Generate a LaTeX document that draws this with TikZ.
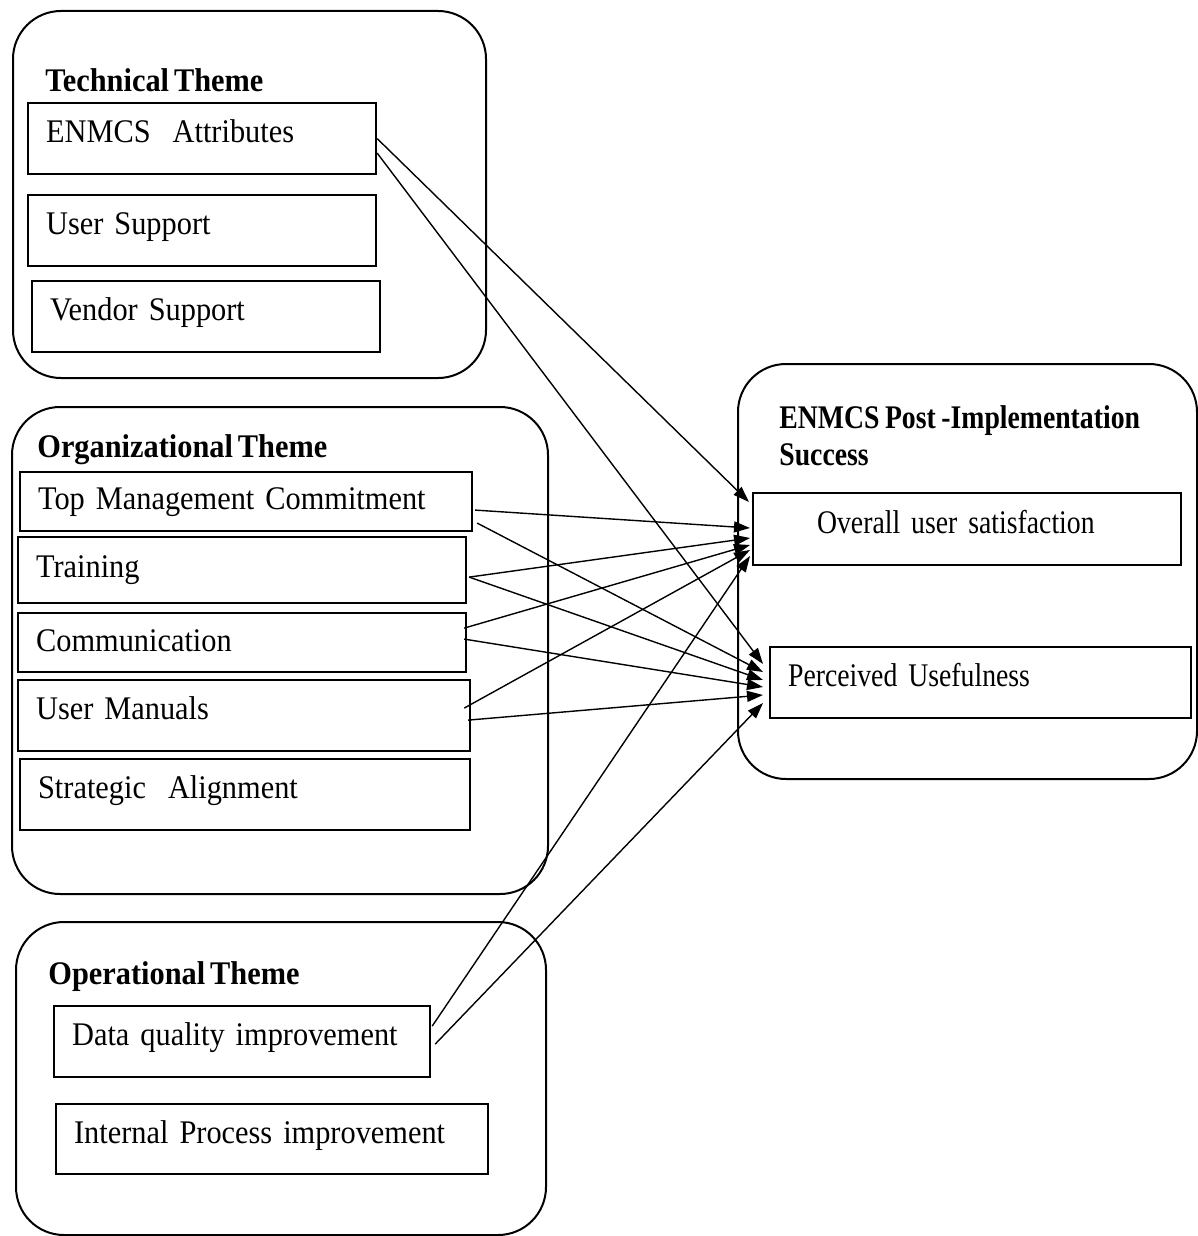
\documentclass[tikz,border=0pt]{standalone}
\usepackage{fontspec}
\setmainfont[FakeStretch=0.92,WordSpace=0.65]{Liberation Serif}
\newfontfamily\narrowfont[FakeStretch=0.84,WordSpace=0.8]{Liberation Serif}
\usetikzlibrary{arrows.meta}
\begin{document}
\begin{tikzpicture}[x=0.5pt,y=-0.5pt,
  outer/.style={draw, line width=1pt, rounded corners=24pt, anchor=north west, inner sep=0pt},
  ibox/.style={draw, line width=1.1pt, anchor=north west, inner xsep=9pt, inner ysep=0pt, align=left, text height=12pt, text depth=8pt},
  head/.style={anchor=base west, inner sep=0pt},
  conn/.style={-{Triangle[length=8pt,width=5.5pt]}, line width=0.7pt},
  every node/.append style={font=\fontsize{16.5}{18}\selectfont}
]
\useasboundingbox (0,0) rectangle (1198,1236);
\fill[white] (0,0) rectangle (1198,1236);

% outer theme boxes
\node[outer, minimum width=236.5pt, minimum height=183.5pt] (tech) at (12,10) {};
\node[outer, minimum width=268pt, minimum height=243.5pt] (org) at (11,406) {};
\node[outer, minimum width=265pt, minimum height=156.5pt] (oper) at (15,921) {};
\node[outer, minimum width=229.5pt, minimum height=207.5pt] (succ) at (737,363) {};

% headings
\node[head] (htech) at (45,91) {\fontsize{16.5}{18}\selectfont\bfseries Technical Theme};
\node[head] (horg) at (37,457) {\fontsize{16.5}{18}\selectfont\bfseries Organizational Theme};
\node[head] (hoper) at (48,984) {\fontsize{16.5}{18}\selectfont\bfseries Operational Theme};
\node[head] (hsucc1) at (779,428) {\fontsize{16.5}{18}\selectfont\narrowfont\bfseries ENMCS Post -Implementation};
\node[head] (hsucc2) at (779,465) {\fontsize{16.5}{18}\selectfont\narrowfont\bfseries Success};

% technical items
\node[ibox, text width=156pt, minimum height=35.5pt] (enmcs) at (27,102) {ENMCS\ \ Attributes};
\node[ibox, text width=156pt, minimum height=35.5pt] (usup) at (27,194) {User Support};
\node[ibox, text width=156pt, minimum height=35.5pt] (vsup) at (31,280) {Vendor Support};

% organizational items
\node[ibox, text width=208pt, minimum height=29.5pt, text depth=4pt] (tmc) at (19,471) {Top Management Commitment};
\node[ibox, text width=206pt, minimum height=33pt, text depth=5pt] (train) at (17,536) {Training};
\node[ibox, text width=206pt, minimum height=29.5pt, text depth=3pt] (comm) at (17,612) {Communication};
\node[ibox, text width=208pt, minimum height=35.5pt] (um) at (17,679) {User Manuals};
\node[ibox, text width=207pt, minimum height=35.5pt] (sa) at (19,758) {Strategic\ \ Alignment};

% operational items
\node[ibox, text width=170pt, minimum height=35.5pt] (dq) at (53,1005) {Data quality improvement};
\node[ibox, text width=198pt, minimum height=35pt] (ipi) at (55,1103) {Internal Process improvement};

% success items
\node[ibox, text width=196pt, minimum height=36pt] (ous) at (752,492) {\narrowfont\hspace*{23pt}Overall user satisfaction};
\node[ibox, text width=192.5pt, minimum height=35.5pt] (pu) at (769,646) {\narrowfont Perceived Usefulness};

% arrow tips
\coordinate (o1) at (749,502);
\coordinate (o2) at (750,528);
\coordinate (o3) at (750,538);
\coordinate (o4) at (750,545);
\coordinate (o5) at (750,550);
\coordinate (o6) at (750,556);
\coordinate (p1) at (763,664);
\coordinate (p2) at (763,672);
\coordinate (p3) at (763,680);
\coordinate (p4) at (763,687);
\coordinate (p5) at (763,695);
\coordinate (p6) at (763,703);

% connectors
\draw[conn] ([yshift=0pt]enmcs.east) -- (o1);
\draw[conn] ([yshift=-7.25pt]enmcs.east) -- (p1);
\draw[conn] ([xshift=1pt,yshift=-4.25pt]tmc.east) -- (o2);
\draw[conn] ([xshift=2pt,yshift=-10.75pt]tmc.east) -- (p2);
\draw[conn] ([xshift=1pt,yshift=-3.5pt]train.east) -- (o3);
\draw[conn] ([xshift=1pt,yshift=-3.5pt]train.east) -- (p3);
\draw[conn] ([xshift=-1.5pt,yshift=7.25pt]comm.east) -- (o4);
\draw[conn] ([xshift=-1.5pt,yshift=1.75pt]comm.east) -- (p4);
\draw[conn] ([xshift=-3.5pt,yshift=3.75pt]um.east) -- (o5);
\draw[conn] ([xshift=-1.5pt,yshift=-2.25pt]um.east) -- (p5);
\draw[conn] ([xshift=0.5pt,yshift=7.75pt]dq.east) -- (o6);
\draw[conn] ([xshift=2pt,yshift=-1.25pt]dq.east) -- (p6);
\end{tikzpicture}
\end{document}
